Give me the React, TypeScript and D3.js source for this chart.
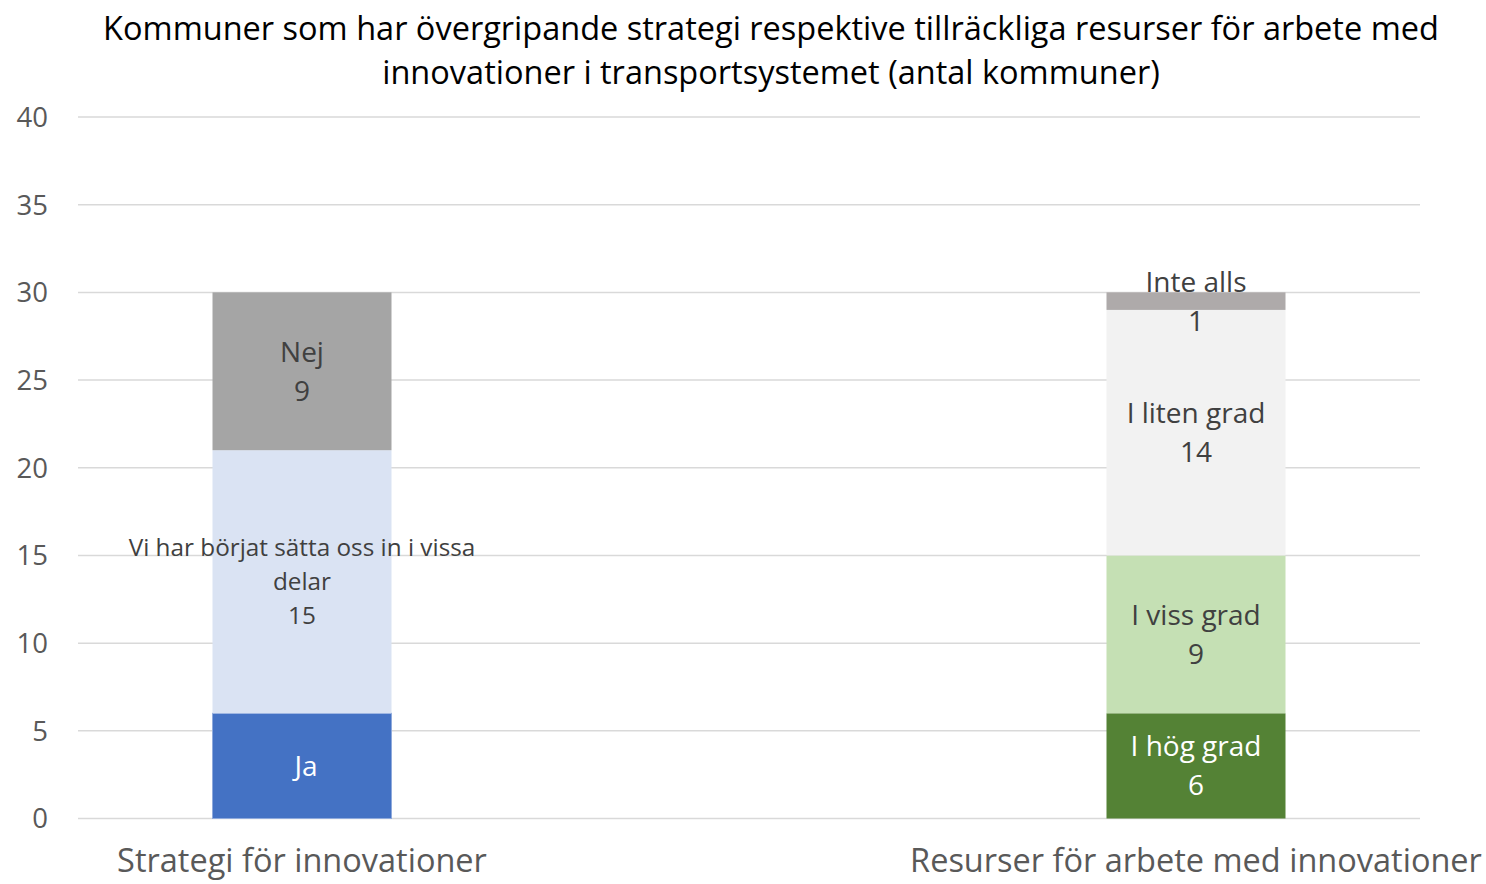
import React from "react";
import * as d3 from "d3";

// chart data
const categories = ["Strategi för innovationer", "Resurser för arbete med innovationer"];
const strategiSeries = ["Ja", "Vi har börjat sätta oss in i vissa delar", "Nej"];
const strategiValues = [6, 15, 9];
const resurserSeries = ["I hög grad", "I viss grad", "I liten grad", "Inte alls"];
const resurserValues = [6, 9, 14, 1];
const yTicks = [0, 5, 10, 15, 20, 25, 30, 35, 40];
const titleLines = [
  "Kommuner som har övergripande strategi respektive tillräckliga resurser för arbete med",
  "innovationer i transportsystemet (antal kommuner)",
];

// label shown per segment: both name and value, except "Ja" (name only)
const strategiLabels = [["Ja"], ["Vi har börjat sätta oss in i vissa", "delar", "15"], ["Nej", "9"]];
const resurserLabels = [["I hög grad", "6"], ["I viss grad", "9"], ["I liten grad", "14"], ["Inte alls", "1"]];

const strategiColors = ["#4472C4", "#DAE3F3", "#A5A5A5"];
const resurserColors = ["#548235", "#C5E0B4", "#F2F2F2", "#AEAAAA"];

const FONT = "'Open Sans', sans-serif";

export default function App() {
  const width = 1486;
  const height = 884;
  const left = 78;
  const right = 1420;

  const y = d3.scaleLinear().domain([0, 40]).range([818.5, 117]);
  const x = d3.scalePoint<string>().domain(categories).range([302, 1196]);
  const barW = 179;

  const stacks = [
    { cat: categories[0], values: strategiValues, names: strategiSeries, colors: strategiColors, labels: strategiLabels },
    { cat: categories[1], values: resurserValues, names: resurserSeries, colors: resurserColors, labels: resurserLabels },
  ];

  return (
    <svg width={width} height={height} style={{ display: "block", position: "absolute", left: 0, top: 0 }} fontFamily={FONT}>
      <rect width={width} height={height} fill="#fff" />
      {titleLines.map((t, i) => (
        <text key={i} x={771} y={40 + i * 44} textAnchor="middle" fontSize={32.5} fill="#000">
          {t}
        </text>
      ))}
      {yTicks.map((t) => (
        <g key={t}>
          <line x1={left} x2={right} y1={y(t)} y2={y(t)} stroke="#D9D9D9" strokeWidth={1.5} />
          <text x={48} y={y(t)} dy="0.36em" textAnchor="end" fontSize={27.5} fill="#595959">
            {t}
          </text>
        </g>
      ))}
      {stacks.map((s) => {
        const cx = x(s.cat)!;
        let acc = 0;
        return (
          <g key={s.cat}>
            {s.values.map((v, i) => {
              const y0 = y(acc);
              const y1 = y(acc + v);
              acc += v;
              return (
                <rect
                  key={s.names[i]}
                  x={cx - barW / 2}
                  y={y1}
                  width={barW}
                  height={y0 - y1}
                  fill={s.colors[i]}
                  stroke={s.names[i] === "Ja" ? "#8FAADC" : "none"}
                  strokeWidth={1}
                />
              );
            })}
          </g>
        );
      })}
      {stacks.map((s) => {
        const cx = x(s.cat)!;
        let acc = 0;
        return (
          <g key={s.cat + "-labels"}>
            {s.values.map((v, i) => {
              const mid = y(acc + v / 2);
              acc += v;
              const lines = s.labels[i];
              const multi = lines.length > 2;
              const lh = multi ? 34 : 39;
              const fs = multi ? 24.3 : 28;
              const top = mid - ((lines.length - 1) * lh) / 2;
              const color = i === 0 ? "#FFFFFF" : "#404040";
              return lines.map((l, j) => (
                <text
                  key={s.names[i] + j}
                  x={cx + (s.names[i] === "Ja" ? 4 : 0)}
                  y={top + j * lh}
                  dy="0.36em"
                  textAnchor="middle"
                  fontSize={fs}
                  fill={color}
                >
                  {l}
                </text>
              ));
            })}
          </g>
        );
      })}
      {categories.map((c) => (
        <text key={c} x={x(c)!} y={872} textAnchor="middle" fontSize={32.5} fill="#595959">
          {c}
        </text>
      ))}
    </svg>
  );
}
